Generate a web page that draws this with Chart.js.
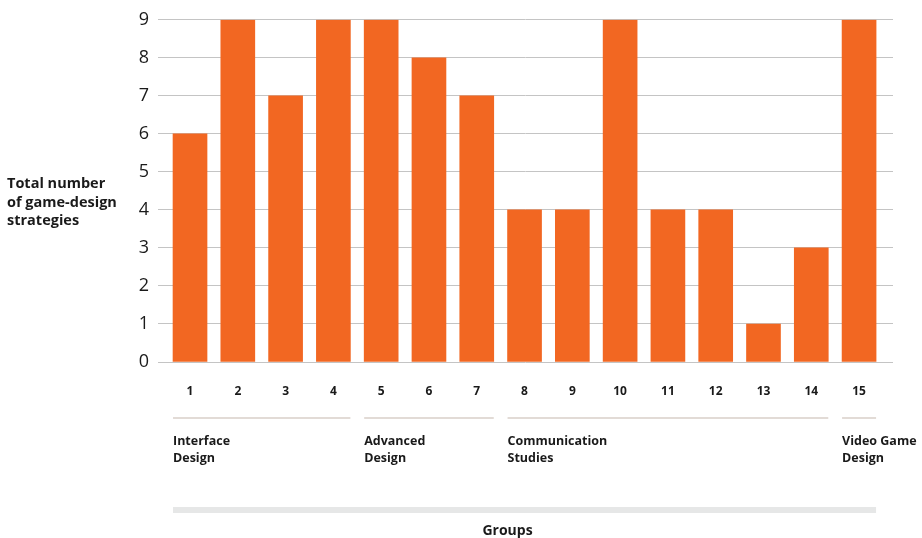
<!DOCTYPE html>
<html>
<head>
<meta charset="utf-8">
<script src="https://cdn.jsdelivr.net/npm/chart.js@4/dist/chart.umd.min.js"></script>
<style>
  html, body { margin: 0; padding: 0; background: #ffffff; }
  #wrap { width: 922px; height: 538px; position: relative; }
</style>
</head>
<body>
<div id="wrap"><canvas id="c" width="922" height="538"></canvas></div>
<script>
// ---- data ----
const groupNumbers = ["1","2","3","4","5","6","7","8","9","10","11","12","13","14","15"];
const strategies = [6, 9, 7, 9, 9, 8, 7, 4, 4, 9, 4, 4, 1, 3, 9];
const yTicks = [0, 1, 2, 3, 4, 5, 6, 7, 8, 9];
const groupNames = [["Interface", "Design"], ["Advanced", "Design"], ["Communication", "Studies"], ["Video Game", "Design"]];
const groupFirst = [1, 5, 8, 15];
const groupLast = [4, 7, 14, 15];
const yTitle = ["Total number", "of game-design", "strategies"];
const xTitle = "Groups";

const ORANGE = "#f26722";
const FONT = "'Open Sans', Lato, sans-serif";
const BAR_W = 34;

const points = strategies.map((v, i) => ({ x: i + 1, y: v }));

const decor = {
  id: "decor",
  afterDraw(chart) {
    const ctx = chart.ctx;
    const xs = chart.scales.x;
    ctx.save();
    // y-axis title
    ctx.fillStyle = "#1a1a1a";
    ctx.font = "700 14.5px " + FONT;
    ctx.textAlign = "left";
    ctx.textBaseline = "middle";
    yTitle.forEach((t, i) => ctx.fillText(t, 7, 184 + i * 18.5));
    // group brackets
    groupNames.forEach((g, i) => {
      const x0 = xs.getPixelForValue(groupFirst[i]) - BAR_W / 2;
      const x1 = xs.getPixelForValue(groupLast[i]) + BAR_W / 2;
      ctx.strokeStyle = "#d9cfc9";
      ctx.lineWidth = 1.5;
      ctx.beginPath();
      ctx.moveTo(x0, 418);
      ctx.lineTo(x1, 418);
      ctx.stroke();
      ctx.fillStyle = "#1a1a1a";
      ctx.font = "700 12.5px " + FONT;
      ctx.textAlign = "left";
      ctx.textBaseline = "middle";
      g.forEach((line, j) => ctx.fillText(line, x0, 441 + j * 17));
    });
    // bottom band
    const bx0 = xs.getPixelForValue(groupFirst[0]) - BAR_W / 2;
    const bx1 = xs.getPixelForValue(groupLast[groupLast.length - 1]) + BAR_W / 2;
    ctx.fillStyle = "#e6e7e7";
    ctx.fillRect(bx0, 507, bx1 - bx0, 6);
    ctx.fillStyle = "#1a1a1a";
    ctx.font = "700 14px " + FONT;
    ctx.textAlign = "center";
    ctx.textBaseline = "middle";
    ctx.fillText(xTitle, (bx0 + bx1) / 2 - 17, 531);
    ctx.restore();
  }
};

new Chart(document.getElementById("c"), {
  type: "bar",
  data: {
    datasets: [{
      data: points,
      backgroundColor: ORANGE,
      borderWidth: 0,
      barThickness: BAR_W
    }]
  },
  options: {
    responsive: false,
    animation: false,
    devicePixelRatio: 1,
    layout: { padding: { left: 0, right: 29, top: 17, bottom: 0 } },
    plugins: { legend: { display: false }, tooltip: { enabled: false } },
    scales: {
      x: {
        type: "linear",
        offset: false,
        min: 0.33,
        max: 15.71,
        grid: { display: false, drawTicks: false },
        border: { display: false },
        afterBuildTicks: (s) => { s.ticks = groupNumbers.map((_, i) => ({ value: i + 1 })); },
        afterFit: (s) => { s.height = 176; },
        ticks: {
          autoSkip: false,
          maxRotation: 0,
          padding: 22,
          color: "#1a1a1a",
          font: { family: FONT, size: 12, weight: "700" },
          callback: (v) => groupNumbers[Math.round(v) - 1]
        }
      },
      y: {
        min: 0,
        max: 9,
        afterBuildTicks: (s) => { s.ticks = yTicks.map(v => ({ value: v })); },
        afterFit: (s) => { s.width = 158; },
        grid: { color: "#c4c4c4", lineWidth: 1, drawTicks: false },
        border: { display: false },
        ticks: {
          padding: 9,
          color: "#1a1a1a",
          font: { family: FONT, size: 18, weight: "500" }
        }
      }
    }
  },
  plugins: [decor]
});
</script>
</body>
</html>
